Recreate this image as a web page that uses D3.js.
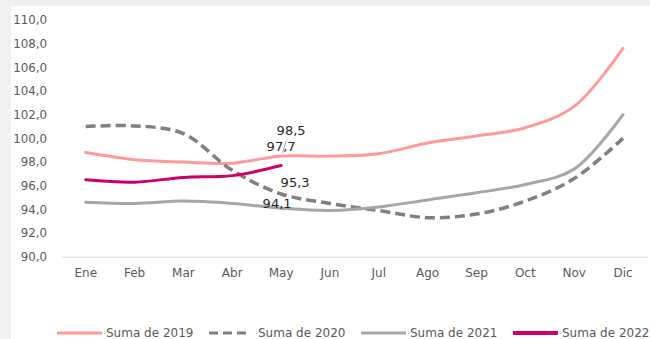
<!DOCTYPE html>
<html>
<head>
<meta charset="utf-8">
<script src="https://cdn.jsdelivr.net/npm/d3@7"></script>
<style>
  html, body { margin: 0; padding: 0; background: #f0f0f0; }
  svg { display: block; }
</style>
</head>
<body>
<svg id="chart" width="650" height="339"></svg>
<script>
// Monthly index, one series per year
const months = ["Ene", "Feb", "Mar", "Abr", "May", "Jun", "Jul", "Ago", "Sep", "Oct", "Nov", "Dic"];
const v2019 = [98.8, 98.2, 98.0, 97.9, 98.5, 98.5, 98.7, 99.6, 100.2, 100.9, 102.7, 107.6];
const v2020 = [101.0, 101.05, 100.4, 97.3, 95.3, 94.5, 93.9, 93.3, 93.6, 94.7, 96.6, 100.0];
const v2021 = [94.6, 94.5, 94.7, 94.5, 94.1, 93.9, 94.2, 94.8, 95.4, 96.1, 97.4, 102.0];
const v2022 = [96.5, 96.3, 96.7, 96.85, 97.7];
const seriesNames = ["Suma de 2019", "Suma de 2020", "Suma de 2021", "Suma de 2022"];
const yTicks = [90, 92, 94, 96, 98, 100, 102, 104, 106, 108, 110];
const labelMonth = "May";

const series = [
  { name: seriesNames[0], values: v2019, color: "#ff9a9a", width: 3, dash: null, lab: [10, -26] },
  { name: seriesNames[1], values: v2020, color: "#7f7f7f", width: 3.5, dash: "10,5", lab: [14, -11] },
  { name: seriesNames[2], values: v2021, color: "#a6a6a6", width: 3, dash: null, lab: [-4, -5] },
  { name: seriesNames[3], values: v2022, color: "#cc0066", width: 3, dash: null, lab: [0, -19] }
];

const svg = d3.select("#chart");
const fmt = v => d3.format(".1f")(v).replace(".", ",");

// white chart area
svg.append("rect").attr("x", 11).attr("y", 6).attr("width", 639).attr("height", 333).attr("fill", "#ffffff");

const x = d3.scaleBand().domain(months).range([61.3, 647.4]).padding(0);
const y = d3.scaleLinear().domain([90, 110]).range([256.7, 20]);
const cx = m => x(m) + x.bandwidth() / 2;

// y axis labels
const yAxis = svg.append("g").attr("transform", "translate(47,0)")
  .call(d3.axisLeft(y).tickValues(yTicks).tickFormat(fmt).tickSize(0).tickPadding(0));
yAxis.select(".domain").remove();
yAxis.selectAll("text")
  .attr("fill", "#595959").attr("font-family", "DejaVu Sans, sans-serif").attr("font-size", 11.8);

// x axis with baseline
const xAxis = svg.append("g").attr("transform", `translate(0,${y(90)})`)
  .call(d3.axisBottom(x).tickSize(0).tickSizeOuter(0).tickPadding(12));
xAxis.select(".domain").attr("stroke", "#d9d9d9").attr("stroke-width", 1);
xAxis.selectAll("text")
  .attr("fill", "#595959").attr("font-family", "DejaVu Sans, sans-serif").attr("font-size", 12);

// lines
const line = d3.line()
  .x((d, i) => cx(months[i]))
  .y(d => y(d))
  .curve(d3.curveCatmullRom.alpha(0.5));

svg.append("g").selectAll("path").data(series).join("path")
  .attr("d", s => line(s.values))
  .attr("fill", "none")
  .attr("stroke", s => s.color)
  .attr("stroke-width", s => s.width)
  .attr("stroke-dasharray", s => s.dash)
  .attr("stroke-linejoin", "round")
  .attr("stroke-linecap", s => s.dash ? "butt" : "round");

// value labels at the last month of the current year
const li = months.indexOf(labelMonth);
const lab = svg.append("g");
// leader line for the 2019 label
lab.append("line")
  .attr("x1", cx(labelMonth) + 5).attr("y1", y(v2019[li]) - 15)
  .attr("x2", cx(labelMonth) + 1.5).attr("y2", y(v2019[li]) - 3)
  .attr("stroke", "#a6a6a6").attr("stroke-width", 1);
lab.selectAll("text").data(series).join("text")
  .attr("x", s => cx(labelMonth) + s.lab[0])
  .attr("y", s => y(s.values[li]) + s.lab[1])
  .attr("text-anchor", "middle")
  .attr("dominant-baseline", "central")
  .attr("font-family", "DejaVu Sans, sans-serif")
  .attr("font-size", 13)
  .attr("fill", "#262626")
  .text(s => fmt(s.values[li]));

// legend
const legend = svg.append("g").attr("transform", "translate(57,333)");
const item = legend.selectAll("g").data(series).join("g")
  .attr("transform", (s, i) => `translate(${i * 152},0)`);
item.append("line")
  .attr("x1", 0).attr("x2", s => s.dash ? 42 : 45)
  .attr("y1", 0).attr("y2", 0)
  .attr("stroke", s => s.color)
  .attr("stroke-width", (s, i) => i === 3 ? 4 : 3)
  .attr("stroke-dasharray", s => s.dash ? "9,5" : null);
item.append("text")
  .attr("x", 49).attr("y", 0)
  .attr("dominant-baseline", "central")
  .attr("font-family", "DejaVu Sans, sans-serif")
  .attr("font-size", 12)
  .attr("fill", "#595959")
  .text(s => s.name);
</script>
</body>
</html>
